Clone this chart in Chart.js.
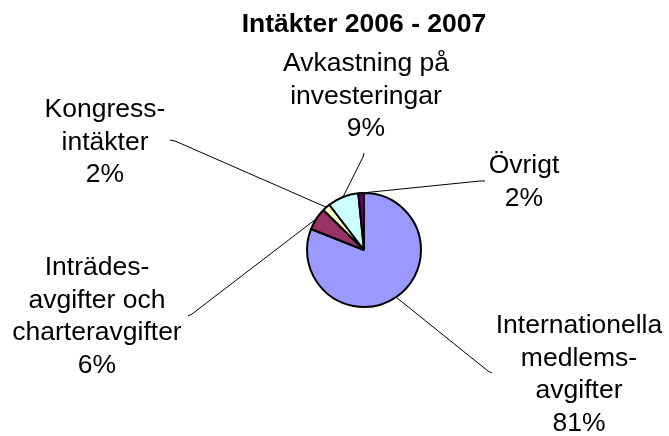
<!DOCTYPE html>
<html>
<head>
<meta charset="utf-8">
<script src="https://cdn.jsdelivr.net/npm/chart.js@4.4.1/dist/chart.umd.min.js"></script>
<style>
  html, body { margin: 0; padding: 0; background: #ffffff; }
  #wrap { width: 669px; height: 436px; }
</style>
</head>
<body>
<div id="wrap"><canvas id="c" width="669" height="436"></canvas></div>
<script>
// ---- data ----
const chartTitle = 'Intäkter 2006 - 2007';
const categories = [
  'Internationella medlemsavgifter',
  'Inträdesavgifter och charteravgifter',
  'Kongressintäkter',
  'Avkastning på investeringar',
  'Övrigt'
];
const labelLines = [
  ['Internationella', 'medlems-', 'avgifter'],
  ['Inträdes-', 'avgifter och', 'charteravgifter'],
  ['Kongress-', 'intäkter'],
  ['Avkastning på', 'investeringar'],
  ['Övrigt']
];
const values = [81.0, 6.4, 2.2, 8.8, 1.6];
const sliceColors = ['#9999FF', '#993366', '#FFFFCC', '#CCFFFF', '#660066'];

// ---- label layout (text centre x, first baseline y, leader end point, end tick) ----
const labelLayout = [
  { cx: 579, y: 333, ax: 488, ay: 371, tx: 4, ty: 2 },
  { cx: 97,  y: 275, ax: 192, ay: 314, tx: -4, ty: 2 },
  { cx: 105, y: 117, ax: 175, ay: 141, tx: -5, ty: -1 },
  { cx: 366, y: 71,  ax: 363, ay: 157, tx: 1, ty: -4 },
  { cx: 524, y: 173, ax: 480, ay: 181, tx: 5, ty: 0 }
];
const lineHeight = 32.5;
const fontFamily = '"Liberation Sans", Arial, Helvetica, sans-serif';
const fontSize = 26.5;

const labelPlugin = {
  id: 'leaderLabels',
  afterDraw(chart) {
    const ctx = chart.ctx;
    const meta = chart.getDatasetMeta(0);
    const total = values.reduce((a, b) => a + b, 0);
    ctx.save();
    // title
    ctx.fillStyle = '#000';
    ctx.textAlign = 'center';
    ctx.textBaseline = 'alphabetic';
    ctx.font = 'bold ' + fontSize + 'px ' + fontFamily;
    ctx.fillText(chartTitle, 364, 32);
    ctx.font = fontSize + 'px ' + fontFamily;
    meta.data.forEach((arc, i) => {
      const p = arc.getProps(['x', 'y', 'startAngle', 'endAngle', 'outerRadius'], true);
      const mid = (p.startAngle + p.endAngle) / 2;
      const sx = p.x + Math.cos(mid) * p.outerRadius;
      const sy = p.y + Math.sin(mid) * p.outerRadius;
      const L = labelLayout[i];
      // leader line
      ctx.strokeStyle = '#000';
      ctx.lineWidth = 1;
      ctx.beginPath();
      ctx.moveTo(sx, sy);
      ctx.lineTo(L.ax, L.ay);
      ctx.lineTo(L.ax + L.tx, L.ay + L.ty);
      ctx.stroke();
      // text
      const lines = labelLines[i].concat([Math.round(values[i] / total * 100) + '%']);
      lines.forEach((t, k) => {
        ctx.fillText(t, L.cx, L.y + k * lineHeight);
      });
    });
    ctx.restore();
  }
};

new Chart(document.getElementById('c'), {
  type: 'pie',
  data: {
    labels: categories,
    datasets: [{
      data: values,
      backgroundColor: sliceColors,
      borderColor: '#000000',
      borderWidth: 2
    }]
  },
  options: {
    responsive: false,
    animation: false,
    radius: 57,
    layout: { padding: { left: 59, right: 0, top: 64, bottom: 0 } },
    plugins: {
      legend: { display: false },
      tooltip: { enabled: false },
      title: { display: false }
    }
  },
  plugins: [labelPlugin]
});
</script>
</body>
</html>
